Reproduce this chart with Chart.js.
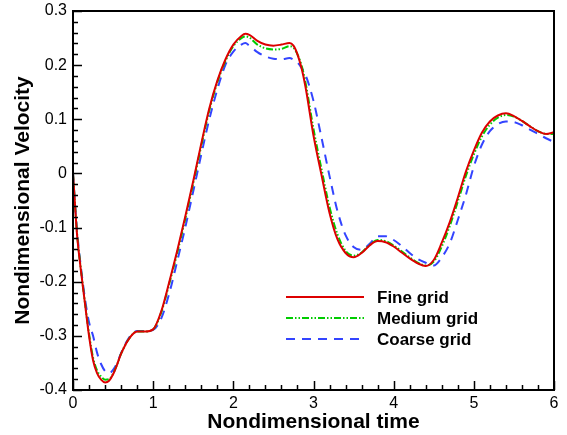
<!DOCTYPE html>
<html>
<head>
<meta charset="utf-8">
<script src="https://cdn.jsdelivr.net/npm/chart.js@4/dist/chart.umd.min.js"></script>
<style>
  html, body { margin: 0; padding: 0; background: #fff; }
  #wrap { width: 567px; height: 435px; position: relative; }
</style>
</head>
<body>
<div id="wrap"><canvas id="c"></canvas></div>
<script>
const time = [0, 0.025, 0.05, 0.1, 0.15, 0.2, 0.25, 0.3, 0.35, 0.4, 0.45, 0.5, 0.55, 0.6, 0.7, 0.8, 0.9, 1.0,
  1.1, 1.2, 1.3, 1.4, 1.5, 1.6, 1.7, 1.8, 1.9, 2.0, 2.1, 2.15, 2.2, 2.3, 2.4, 2.5, 2.6, 2.7, 2.75, 2.8, 2.85, 2.9,
  3.0, 3.1, 3.2, 3.3, 3.4, 3.5, 3.6, 3.7, 3.8, 3.9, 4.0, 4.1, 4.2, 4.3, 4.4, 4.5, 4.6, 4.7, 4.8, 4.9,
  5.0, 5.1, 5.2, 5.3, 5.4, 5.5, 5.6, 5.7, 5.8, 5.9, 6.0];

const fineGrid = [0.0, -0.058, -0.112, -0.181, -0.241, -0.300, -0.345, -0.369, -0.381, -0.386, -0.383, -0.371, -0.353, -0.333, -0.305, -0.292, -0.292, -0.288,
  -0.255, -0.201, -0.143, -0.080, -0.014, 0.055, 0.120, 0.171, 0.210, 0.238, 0.254, 0.258, 0.256, 0.245, 0.238, 0.236, 0.238, 0.241, 0.236, 0.220, 0.195, 0.160,
  0.070, -0.003, -0.073, -0.122, -0.147, -0.155, -0.147, -0.133, -0.125, -0.127, -0.135, -0.146, -0.157, -0.166, -0.171, -0.160, -0.128, -0.090, -0.045, 0.003,
  0.042, 0.075, 0.096, 0.107, 0.111, 0.106, 0.097, 0.087, 0.078, 0.073, 0.076];

const mediumGrid = [0.0, -0.057, -0.110, -0.179, -0.239, -0.296, -0.340, -0.364, -0.375, -0.381, -0.380, -0.370, -0.353, -0.333, -0.305, -0.292, -0.292, -0.288,
  -0.257, -0.204, -0.147, -0.084, -0.018, 0.051, 0.116, 0.168, 0.207, 0.235, 0.250, 0.253, 0.251, 0.238, 0.231, 0.229, 0.230, 0.235, 0.232, 0.220, 0.200, 0.168,
  0.082, 0.008, -0.062, -0.113, -0.143, -0.152, -0.146, -0.132, -0.123, -0.125, -0.133, -0.144, -0.155, -0.165, -0.170, -0.163, -0.135, -0.097, -0.052, -0.005,
  0.035, 0.068, 0.090, 0.103, 0.108, 0.105, 0.097, 0.087, 0.078, 0.073, 0.073];

const coarseGrid = [0.0, -0.055, -0.105, -0.175, -0.232, -0.275, -0.300, -0.331, -0.352, -0.365, -0.369, -0.363, -0.350, -0.332, -0.303, -0.291, -0.291, -0.289,
  -0.268, -0.222, -0.162, -0.100, -0.033, 0.035, 0.100, 0.155, 0.200, 0.225, 0.238, 0.241, 0.236, 0.224, 0.216, 0.212, 0.211, 0.213, 0.210, 0.205, 0.195, 0.182,
  0.134, 0.066, -0.005, -0.070, -0.114, -0.136, -0.141, -0.130, -0.116, -0.116, -0.123, -0.134, -0.147, -0.158, -0.165, -0.170, -0.155, -0.129, -0.086, -0.040,
  0.013, 0.053, 0.078, 0.091, 0.096, 0.095, 0.089, 0.081, 0.073, 0.065, 0.058];

const seriesLabels = ['Fine grid', 'Medium grid', 'Coarse grid'];
const xTickValues = [0, 1, 2, 3, 4, 5, 6];
const yTickValues = [-0.4, -0.3, -0.2, -0.1, 0, 0.1, 0.2, 0.3];

const FONT = "'Liberation Sans', Arial, Helvetica, sans-serif";

function pts(ys) { return time.map((t, i) => ({ x: t, y: ys[i] })); }

const frameTicks = {
  id: 'frameTicks',
  afterDatasetsDraw(chart) {
    const { ctx, chartArea: a, scales: { x, y } } = chart;
    ctx.save();
    ctx.strokeStyle = '#000';
    ctx.lineWidth = 1.5;
    ctx.beginPath();
    for (let i = 0; i <= 30; i++) {
      const v = i * 0.2;
      const px = Math.round(x.getPixelForValue(v)) + 0.5;
      const len = (i % 5 === 0) ? 9 : 5;
      ctx.moveTo(px, a.bottom);
      ctx.lineTo(px, a.bottom - len);
    }
    for (let i = 0; i <= 35; i++) {
      const v = -0.4 + i * 0.02;
      const py = Math.round(y.getPixelForValue(v)) + 0.5;
      const len = (i % 5 === 0) ? 9 : 5;
      ctx.moveTo(a.left, py);
      ctx.lineTo(a.left + len, py);
    }
    ctx.stroke();
    ctx.lineWidth = 2;
    ctx.strokeRect(a.left, a.top, a.right - a.left, a.bottom - a.top);
    ctx.restore();
  },
  afterDraw(chart, args, opts) {
    const { ctx } = chart;
    ctx.save();
    ctx.font = "bold 17px " + FONT;
    ctx.textBaseline = 'middle';
    ctx.fillStyle = '#000';
    chart.data.datasets.forEach((ds, i) => {
      const yy = opts.y0 + i * opts.dy;
      ctx.strokeStyle = ds.borderColor;
      ctx.lineWidth = ds.borderWidth;
      ctx.setLineDash(ds.borderDash || []);
      ctx.beginPath();
      ctx.moveTo(opts.x0, yy);
      ctx.lineTo(opts.x1, yy);
      ctx.stroke();
      ctx.setLineDash([]);
      ctx.fillText(ds.label, opts.tx, yy + 1);
    });
    ctx.restore();
  }
};

new Chart(document.getElementById('c'), {
  type: 'line',
  data: {
    datasets: [
      { label: seriesLabels[0], data: pts(fineGrid), borderColor: '#dd0000', borderWidth: 2, pointRadius: 0, cubicInterpolationMode: 'monotone', fill: false },
      { label: seriesLabels[1], data: pts(mediumGrid), borderColor: '#00cc00', borderWidth: 2, borderDash: [7, 2, 1.5, 2, 1.5, 2], pointRadius: 0, cubicInterpolationMode: 'monotone', fill: false },
      { label: seriesLabels[2], data: pts(coarseGrid), borderColor: '#3344ff', borderWidth: 2, borderDash: [9, 7], pointRadius: 0, cubicInterpolationMode: 'monotone', fill: false }
    ]
  },
  options: {
    responsive: true,
    maintainAspectRatio: false,
    devicePixelRatio: 1,
    animation: false,
    layout: { padding: { top: 11, right: 13, left: 0, bottom: 0 } },
    plugins: {
      legend: { display: false },
      tooltip: { enabled: false },
      frameTicks: { x0: 286, x1: 364, tx: 377, y0: 297, dy: 21 }
    },
    scales: {
      x: {
        type: 'linear', min: 0, max: 6,
        afterBuildTicks: (s) => { s.ticks = xTickValues.map(v => ({ value: v })); },
        ticks: { color: '#000', font: { family: FONT, size: 16 }, padding: 4, maxRotation: 0, callback: (v) => String(v) },
        grid: { display: false, drawTicks: false },
        border: { display: false },
        title: { display: true, text: 'Nondimensional time', color: '#000', font: { family: FONT, size: 21, weight: 'bold' }, padding: { top: 0, bottom: 0 } },
        afterFit: (s) => { s.height = 45; s.paddingLeft = 0; s.paddingRight = 0; }
      },
      y: {
        type: 'linear', min: -0.4, max: 0.3,
        afterBuildTicks: (s) => { s.ticks = yTickValues.map(v => ({ value: v })); },
        ticks: { color: '#000', font: { family: FONT, size: 16 }, padding: 6, callback: (v) => String(Math.round(v * 10) / 10) },
        grid: { display: false, drawTicks: false },
        border: { display: false },
        title: { display: true, text: 'Nondimensional Velocity', color: '#000', font: { family: FONT, size: 21, weight: 'bold' }, padding: { top: 11, bottom: 0 } },
        afterFit: (s) => { s.width = 73; s.paddingTop = 0; s.paddingBottom = 0; }
      }
    }
  },
  plugins: [frameTicks]
});
</script>
</body>
</html>
